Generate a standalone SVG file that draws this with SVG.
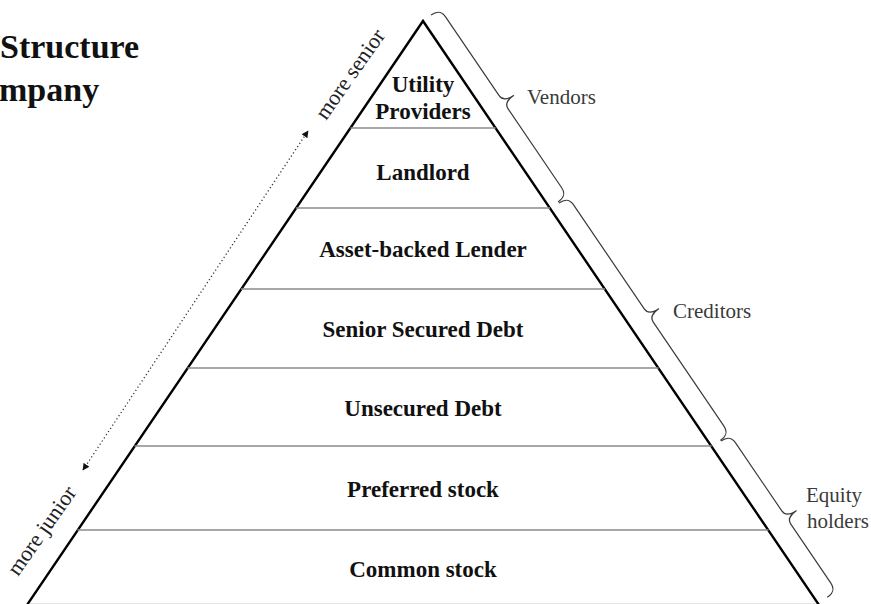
<svg xmlns="http://www.w3.org/2000/svg" width="871" height="604" viewBox="0 0 871 604">
  <style>
    .edge { stroke: #000; stroke-width: 2.4; fill: none; stroke-linecap: round; }
    .tier { stroke: #8a8a8a; stroke-width: 1.6; fill: none; }
    .lbl { font-family: "Liberation Serif", "Times New Roman", serif; font-weight: bold; font-size: 23px; fill: #111; text-anchor: middle; }
    .title { font-family: "Liberation Serif", "Times New Roman", serif; font-weight: bold; font-size: 34px; fill: #111; }
    .side { font-family: "Liberation Serif", "Times New Roman", serif; font-size: 21px; fill: #3a3a3a; }
    .dir { font-family: "Liberation Serif", "Times New Roman", serif; font-size: 22px; fill: #222; }
    .brace { stroke: #3a3a3a; stroke-width: 1.2; fill: none; stroke-linejoin: round; }
    .dots { stroke: #333; stroke-width: 1.3; stroke-dasharray: 1.2 2.6; fill: none; }
  </style>
  <defs>
    <marker id="tri" viewBox="0 0 10 10" refX="9" refY="5" markerWidth="7" markerHeight="7" markerUnits="userSpaceOnUse" orient="auto-start-reverse">
      <path d="M0,0 L10,5 L0,10 z" fill="#111"/>
    </marker>
  </defs>

  <rect width="871" height="604" fill="#fff"/>

  <!-- heading, clipped at the left margin -->
  <g id="heading">
    <text class="title" x="0" y="58">Structure</text>
    <text class="title" x="-1" y="101">mpany</text>
  </g>

  <!-- pyramid outline -->
  <g id="pyramid">
    <line x1="30" y1="603.5" x2="818" y2="603.5" stroke="#e6e6e6" stroke-width="1"/>
    <path class="edge" d="M27,605 L423,21 L819,605"/>
  </g>

  <!-- tiers, top to bottom -->
  <g id="tier-utility">
    <text class="lbl" x="423" y="92">Utility</text>
    <text class="lbl" x="423" y="119">Providers</text>
    <line class="tier" x1="350.3" y1="128" x2="495.7" y2="128"/>
  </g>
  <g id="tier-landlord">
    <text class="lbl" x="423" y="180">Landlord</text>
    <line class="tier" x1="296" y1="208" x2="550" y2="208"/>
  </g>
  <g id="tier-abl">
    <text class="lbl" x="423" y="257">Asset-backed Lender</text>
    <line class="tier" x1="241" y1="289" x2="605" y2="289"/>
  </g>
  <g id="tier-senior">
    <text class="lbl" x="423" y="337">Senior Secured Debt</text>
    <line class="tier" x1="187.4" y1="368" x2="658.6" y2="368"/>
  </g>
  <g id="tier-unsecured">
    <text class="lbl" x="423" y="416">Unsecured Debt</text>
    <line class="tier" x1="134.4" y1="446" x2="711.6" y2="446"/>
  </g>
  <g id="tier-preferred">
    <text class="lbl" x="423" y="497">Preferred stock</text>
    <line class="tier" x1="77.4" y1="530" x2="768.6" y2="530"/>
  </g>
  <g id="tier-common">
    <text class="lbl" x="423" y="577">Common stock</text>
  </g>

  <!-- seniority axis -->
  <g id="connectors">
    <line class="dots" x1="83" y1="470" x2="308" y2="131" marker-start="url(#tri)" marker-end="url(#tri)"/>
    <text class="dir" transform="translate(326,121) rotate(-55)">more senior</text>
    <text class="dir" transform="translate(18,577) rotate(-55)">more junior</text>
  </g>

  <!-- claimant groupings -->
  <g id="group-vendors">
    <path class="brace" transform="translate(431,15) rotate(55.8)" d="M0,0 C0,-8 3,-11 10,-11 L105,-11 C110,-11 113,-15 113,-23 C113,-15 116,-11 121,-11 L216,-11 C223,-11 226,-8 226,0"/>
    <text class="side" x="527" y="104">Vendors</text>
  </g>
  <g id="group-creditors">
    <path class="brace" transform="translate(559,203) rotate(55.8)" d="M0,0 C0,-8 3,-11 10,-11 L135.5,-11 C140.5,-11 143.5,-15 143.5,-23 C143.5,-15 146.5,-11 151.5,-11 L277,-11 C284,-11 287,-8 287,0"/>
    <text class="side" x="673" y="318">Creditors</text>
  </g>
  <g id="group-equity">
    <path class="brace" transform="translate(721,441) rotate(55.8)" d="M0,0 C0,-8 3,-11 10,-11 L92,-11 C97,-11 100,-15 100,-23 C100,-15 103,-11 108,-11 L179,-11 C186,-11 189,-8 189,0"/>
    <text class="side" x="806" y="502">Equity</text>
    <text class="side" x="807" y="528">holders</text>
  </g>
</svg>
